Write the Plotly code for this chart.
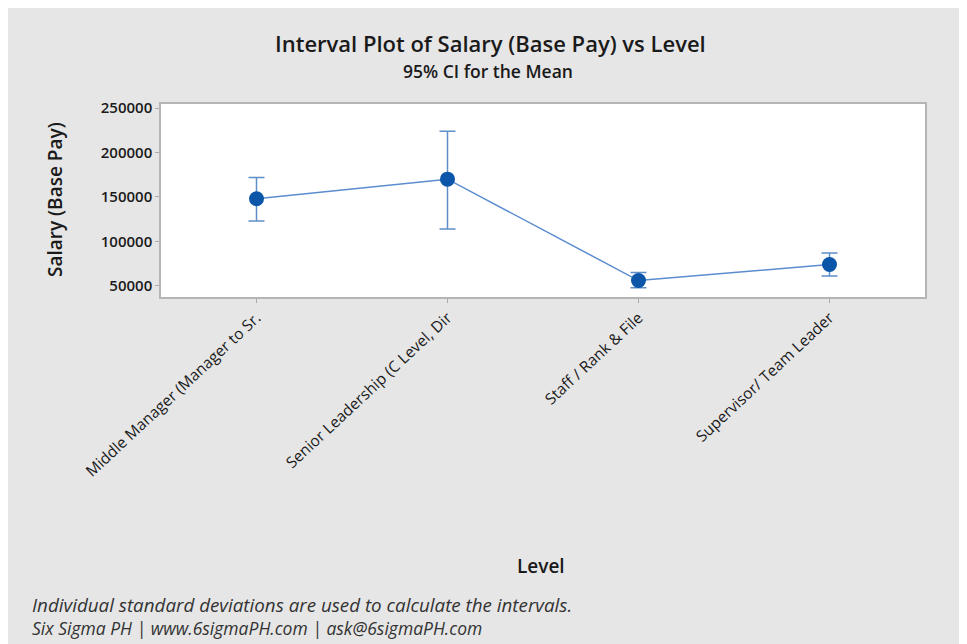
import plotly.graph_objects as go

levels = [
    "Middle Manager (Manager to Sr.",
    "Senior Leadership (C Level, Dir",
    "Staff / Rank & File",
    "Supervisor/ Team Leader",
]
mean_salary = [148000, 170000, 56000, 74000]
ci_upper = [172000, 224000, 65000, 87000]
ci_lower = [123000, 114000, 48000, 61000]

err_plus = [u - m for u, m in zip(ci_upper, mean_salary)]
err_minus = [m - l for m, l in zip(mean_salary, ci_lower)]

font_family = "Open Sans, Noto Sans, sans-serif"

# page is drawn with an 8px body offset, so margins are set in figure pixels
W, H = 967, 644
ML, MR, MT, MB = 153, 50, 96, 355

fig = go.Figure(
    go.Scatter(
        x=list(range(len(levels))),
        y=mean_salary,
        mode="lines+markers",
        line=dict(color="#5b8ccf", width=1.5),
        marker=dict(color="#0b56a8", size=15),
        error_y=dict(
            type="data",
            array=err_plus,
            arrayminus=err_minus,
            color="#5f8fc8",
            thickness=1.5,
            width=8,
        ),
        hovertemplate="%{text}<br>%{y:,.0f}<extra></extra>",
        text=levels,
    )
)

axis_style = dict(
    ticks="outside",
    ticklen=4,
    tickcolor="#aaaaaa",
    showgrid=False,
    zeroline=False,
    showline=True,
    linecolor="#b5b5b5",
    linewidth=1.5,
    mirror=True,
)

fig.update_layout(
    width=W,
    height=H,
    paper_bgcolor="#e6e6e6",
    plot_bgcolor="white",
    margin=dict(l=ML, r=MR, t=MT, b=MB),
    font=dict(family=font_family, color="#1a1a1a"),
    showlegend=False,
    xaxis=dict(
        range=[-0.5, 3.5],
        tickmode="array",
        tickvals=list(range(len(levels))),
        ticktext=levels,
        tickangle=-43,
        tickfont=dict(size=15.5, color="#1a1a1a"),
        **axis_style,
    ),
    yaxis=dict(
        range=[37500, 254500],
        tickvals=[50000, 100000, 150000, 200000, 250000],
        ticktext=["50000", "100000", "150000", "200000", "250000"],
        tickfont=dict(size=15, color="#1a1a1a", weight=600),
        **axis_style,
    ),
)

pw, ph = W - ML - MR, H - MT - MB


def px(x):
    return (x - 8 - ML) / pw


def py(y):
    return (H - MB - (y - 8)) / ph


texts = [
    ("Interval Plot of Salary (Base Pay) vs Level", 490, 43, 22, 0, 600),
    ("95% CI for the Mean", 488, 71, 17.5, 0, 600),
    ("Level", 541, 566, 19, 0, 600),
    ("Salary (Base Pay)", 55, 200, 19, -90, 600),
]
for t, x, y, s, ang, wt in texts:
    fig.add_annotation(
        text=t, x=px(x), y=py(y), xref="paper", yref="paper",
        xanchor="center", yanchor="middle", showarrow=False,
        textangle=ang, font=dict(size=s, color="#1a1a1a", weight=wt),
    )

footer = [
    ("<i>Individual standard deviations are used to calculate the intervals.</i>", 605, 18.8),
    ("<i>Six Sigma PH | www.6sigmaPH.com | ask@6sigmaPH.com</i>", 628, 17.5),
]
for t, y, s in footer:
    fig.add_annotation(
        text=t, x=px(30), y=py(y), xref="paper", yref="paper",
        xanchor="left", yanchor="middle", showarrow=False,
        font=dict(size=s, color="#333333"),
    )

fig.write_html("out.html")
